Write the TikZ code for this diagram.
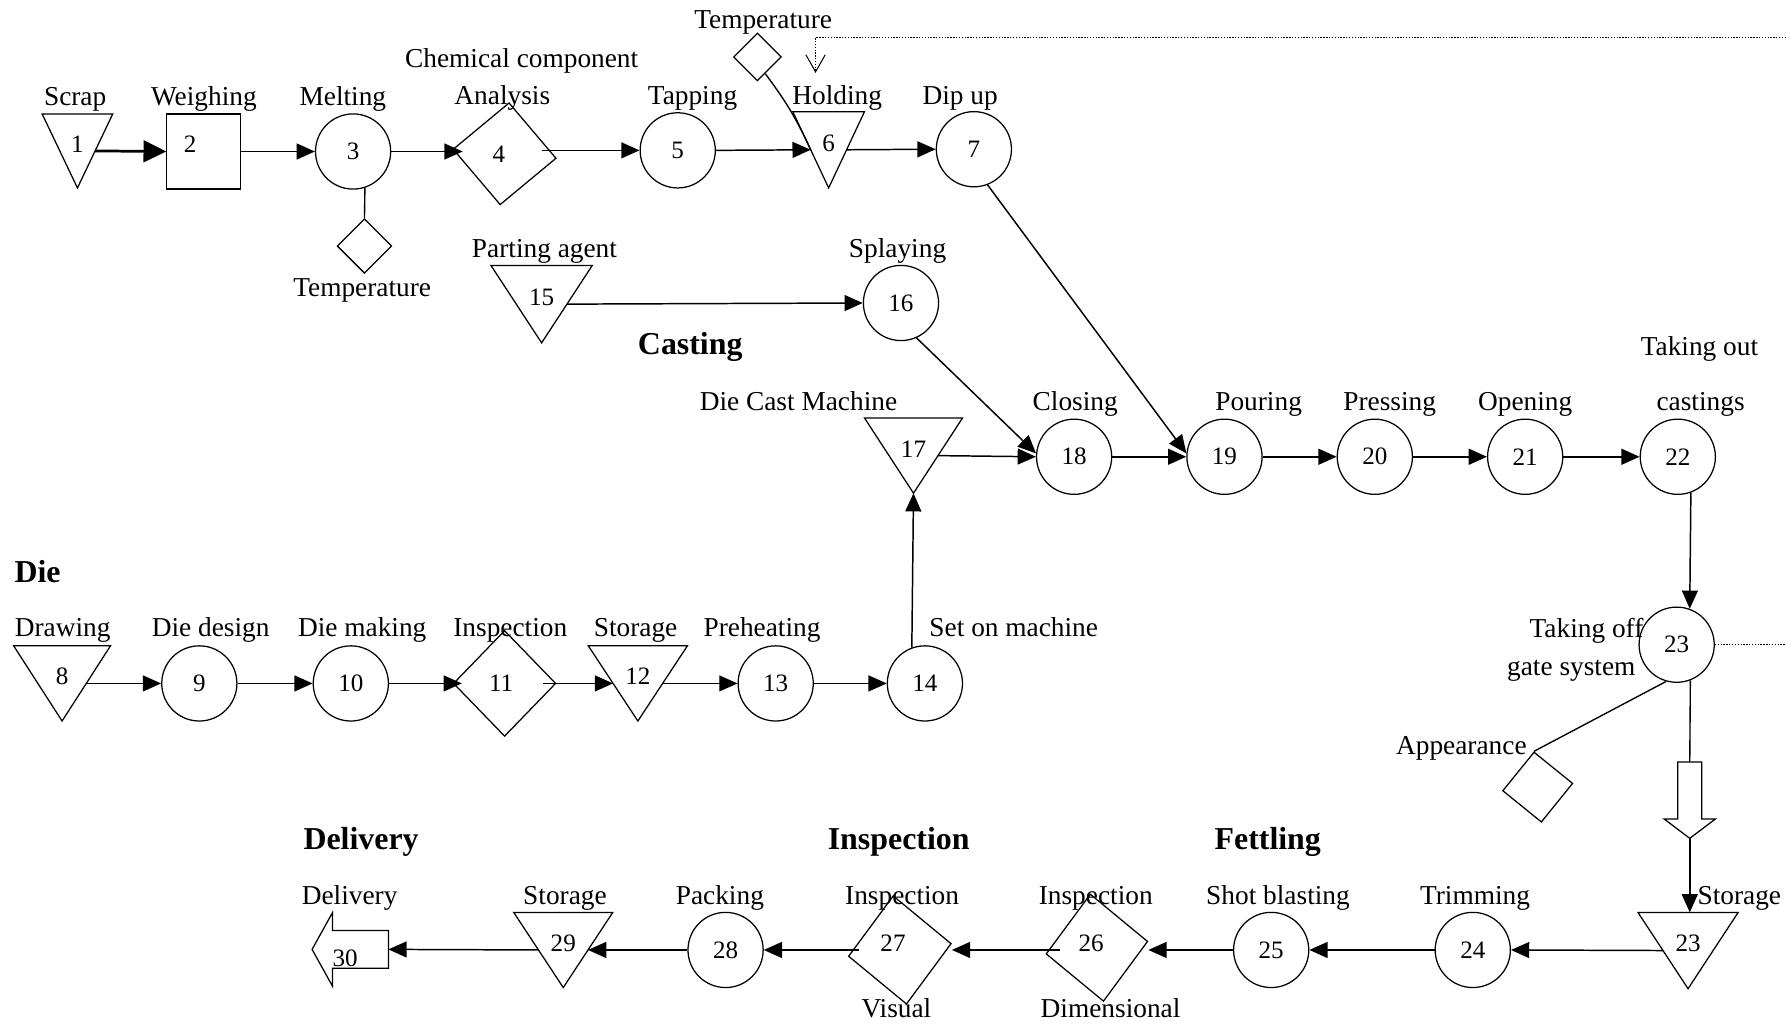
\documentclass[tikz,border=0pt]{standalone}
\usepackage{fontspec}
\setmainfont{Liberation Serif}
\usetikzlibrary{shapes.geometric,arrows.meta,calc}

\newcommand\numfont{\fontsize{22}{24}\selectfont}
\newcommand\lblfont{\fontsize{24}{28}\selectfont}
\newcommand\headfont{\bfseries\fontsize{28}{32}\selectfont}

\tikzset{
  outline/.style={draw, line width=1.1pt, line join=miter},
  opc/.style={circle, outline, minimum size=66pt, inner sep=0pt, font=\numfont},
  chk/.style={diamond, outline, inner sep=0pt},
  hull/.style={rectangle, inner sep=0pt, outer sep=0pt},
  num/.style={font=\numfont, inner sep=0pt},
  lbl/.style={font=\lblfont, inner sep=0pt, anchor=base},
  head/.style={font=\headfont, inner sep=0pt, anchor=base},
  flow/.style={line width=1.3pt, -{Triangle[length=16pt,width=14pt]}},
  heavyflow/.style={line width=2.4pt, -{Triangle[length=20pt,width=19pt]}},
  tie/.style={line width=1.2pt},
  info/.style={line width=1pt, dash pattern=on 1.2pt off 1.3pt},
}

% downward storage triangle: name, centre, width, height, number
\newcommand\storetri[5]{%
  \node[hull, minimum width=#3pt, minimum height=#4pt] (#1) at (#2) {};
  \draw[outline] (#1.north west) -- (#1.north east) -- (#1.south) -- cycle;
  \coordinate (#1-w) at ($(#1.north west)!0.5!(#1.south)$);
  \coordinate (#1-e) at ($(#1.north east)!0.5!(#1.south)$);
  \node[num] (#1-n) at ([yshift=6pt]#1.center) {#5};
}

\begin{document}
\begin{tikzpicture}[x=1pt, y=-1pt]
\useasboundingbox (0,0) rectangle (1568,900);

% ---------- melting line ----------
\storetri{t1}{68,132.5}{62}{65}{1}
\node[hull, outline, minimum width=65pt, minimum height=66pt] (sq2) at (178.5,133) {};
\node[num] (sq2-n) at (167,127) {2};
\node[opc] (c3) at (310,133) {3};
\node[chk, minimum width=91pt, minimum height=90pt, rotate=-5] (d4) at (443,135) {};
\node[num] (d4-n) at (438,135) {4};
\node[opc] (c5) at (595,132) {5};
\storetri{t6}{727.5,131.5}{63}{67}{6}
\node[opc] (c7) at (855,131) {7};
\node[chk, minimum size=48pt] (tempA) at (320,216) {};
\node[chk, minimum size=42pt] (tempB) at (665,50) {};

% ---------- casting line ----------
\storetri{t15}{475.5,267}{89}{68}{15}
\node[opc] (c16) at (791,266) {16};
\storetri{t17}{802,400}{86}{66}{17}
\node[opc] (c18) at (943,401) {18};
\node[opc] (c19) at (1075,401) {19};
\node[opc] (c20) at (1207,401) {20};
\node[opc] (c21) at (1339,401) {21};
\node[opc] (c22) at (1473,401) {22};
\node[opc] (c23) at (1472,566) {23};
\node[chk, minimum size=62pt, rotate=6] (app) at (1350,691) {};

% ---------- die line ----------
\storetri{t8}{54.5,600}{85}{66}{8}
\node[opc] (c9) at (175,600) {9};
\node[opc] (c10) at (308,600) {10};
\node[chk, minimum width=90pt, minimum height=93pt] (d11) at (443,600) {};
\node[num] (d11-n) at (440,600) {11};
\storetri{t12}{560,600}{87}{66}{12}
\node[opc] (c13) at (681,600) {13};
\node[opc] (c14) at (812,600) {14};

% ---------- fettling, inspection, delivery ----------
\storetri{t23}{1482,834.5}{88}{67}{23}
\node[opc] (c24) at (1293,834) {24};
\node[opc] (c25) at (1116,834) {25};
\node[chk, minimum width=90pt, minimum height=95pt, rotate=7] (d26) at (963,832) {};
\node[num] (d26-n) at (958,828) {26};
\node[chk, minimum width=91pt, minimum height=96pt, rotate=7] (d27) at (790,834) {};
\node[num] (d27-n) at (784,828) {27};
\node[opc] (c28) at (637,834) {28};
\storetri{t29}{494.5,834}{87}{66}{29}

% block arrow below operation 23
\coordinate (ba-top) at (1483.5,669);
\coordinate (ba-tip) at (1483.5,736);
\draw[outline] ($(ba-top)+(-10.5,0)$) -- ($(ba-top)+(10.5,0)$) -- ($(ba-top)+(10.5,50)$)
  -- ($(ba-top)+(22.5,50)$) -- (ba-tip) -- ($(ba-top)+(-22.5,50)$) -- ($(ba-top)+(-10.5,50)$) -- cycle;

% delivery block arrow
\coordinate (d30-e) at (341,833.5);
\coordinate (d30-tip) at (274,833.5);
\draw[outline] ($(d30-e)+(0,-16.5)$) -- ($(d30-tip)+(18,-16.5)$) -- ($(d30-tip)+(18,-32.5)$)
  -- (d30-tip) -- ($(d30-tip)+(18,32.5)$) -- ($(d30-tip)+(18,16.5)$) -- ($(d30-e)+(0,16.5)$) -- cycle;
\node[num] (n30) at (303,841) {30};

% ---------- connectors ----------
\draw[heavyflow] (t1-e) -- (sq2.west);
\draw[flow] (sq2.east) -- (c3.west);
\draw[flow] (c3.east) -- ([xshift=9pt]c3.east -| d4.west);
\draw[flow] ([xshift=-13pt]c5.west -| d4.east) -- (c5.west);
\draw[flow] (c5.east) -- (t6-w);
\draw[flow] (t6-e) -- (c7.west);
\draw[tie] (c3.-72) -- (tempA.north);
\draw[tie] (tempB.-65) to[bend left=6] (t6-w);
\coordinate (edgeA) at (1568,33);
\coordinate (holdmark) at (716,64);
\draw[info, -{Straight Barb[length=15pt,width=17pt,line width=0.9pt]}] (edgeA) -- (holdmark |- edgeA) -- (holdmark);

\draw[flow] (t15-e) -- (c16.west);
\draw[flow] (c16.-66) -- (c18.175);
\draw[flow] (c7.-69) -- (c19.175);
\draw[flow] (t17-e) -- (c18.west);
\draw[flow] (c18.east) -- (c19.west);
\draw[flow] (c19.east) -- (c20.west);
\draw[flow] (c20.east) -- (c21.west);
\draw[flow] (c21.east) -- (c22.west);
\draw[flow] (c22.-70) -- (c23.70);
\draw[tie] (c23.-106) -- (app.north);
\draw[tie] (c23.-69) -- (ba-top);
\draw[flow] (ba-tip) -- (t23.north -| ba-tip);
\coordinate (edgeB) at (1568,566);
\draw[info] (c23.east) -- (edgeB);

\draw[flow] (t8-e) -- (c9.west);
\draw[flow] (c9.east) -- (c10.west);
\draw[flow] (c10.east) -- ([xshift=8pt]d11.west);
\draw[flow] ([xshift=-12pt]d11.east) -- (t12-w);
\draw[flow] (t12-e) -- (c13.west);
\draw[flow] (c13.east) -- (c14.west);
\draw[flow] (c14.110) -- (t17.south);

\draw[flow] (t23-w) -- (c24.east);
\draw[flow] (c24.west) -- (c25.east);
\draw[flow] (c25.west) -- (c25.west -| d26.east);
\draw[flow] ([xshift=13pt]c25.west -| d26.west) -- (c25.west -| d27.east);
\draw[flow] ([xshift=10pt]c28.east -| d27.west) -- (c28.east);
\draw[flow] (c28.west) -- (t29-e);
\draw[flow] (t29-w) -- (d30-e);

% ---------- labels ----------
\node[lbl] (l1) at (66,93) {Scrap};
\node[lbl] (l2) at (179,93) {Weighing};
\node[lbl] (l3) at (301,93) {Melting};
\node[lbl] (l4a) at (458,59) {Chemical component};
\node[lbl] (l4b) at (441,92) {Analysis};
\node[lbl] (l5) at (608,92) {Tapping};
\node[lbl] (l6t) at (670,25) {Temperature};
\node[lbl] (l6) at (735,92) {Holding};
\node[lbl] (l7) at (843,92) {Dip up};
\node[lbl] (l3t) at (318,260) {Temperature};
\node[lbl] (l15) at (478,226) {Parting agent};
\node[lbl] (l16) at (788,226) {Splaying};
\node[lbl] (l17) at (701,360) {Die Cast Machine};
\node[lbl] (l18) at (944,360) {Closing};
\node[lbl] (l19) at (1105,360) {Pouring};
\node[lbl] (l20) at (1220,360) {Pressing};
\node[lbl] (l21) at (1339,360) {Opening};
\node[lbl] (l22a) at (1492,312) {Taking out};
\node[lbl] (l22b) at (1493,360) {castings};
\node[lbl, anchor=base east] (l23a) at (1443,560) {Taking off};
\node[lbl, anchor=base east] (l23b) at (1436,593) {gate system};
\node[lbl] (lapp) at (1283,662) {Appearance};
\node[lbl] (l8) at (55,559) {Drawing};
\node[lbl] (l9) at (185,559) {Die design};
\node[lbl] (l10) at (318,559) {Die making};
\node[lbl] (l11) at (448,559) {Inspection};
\node[lbl] (l12) at (558,559) {Storage};
\node[lbl] (l13) at (669,559) {Preheating};
\node[lbl] (l14) at (890,559) {Set on machine};
\node[lbl] (l23s) at (1527,794) {Storage};
\node[lbl] (l24) at (1295,794) {Trimming};
\node[lbl] (l25) at (1122,794) {Shot blasting};
\node[lbl] (l26a) at (962,794) {Inspection};
\node[lbl] (l26b) at (975,893) {Dimensional};
\node[lbl] (l27a) at (792,794) {Inspection};
\node[lbl] (l27b) at (787,893) {Visual};
\node[lbl] (l28) at (632,794) {Packing};
\node[lbl] (l29) at (496,794) {Storage};
\node[lbl] (l30) at (307,794) {Delivery};

% ---------- section headings ----------
\node[head] (h1) at (33,511) {Die};
\node[head] (h2) at (606,311) {Casting};
\node[head] (h3) at (317,746) {Delivery};
\node[head] (h4) at (789,746) {Inspection};
\node[head] (h5) at (1113,746) {Fettling};
\end{tikzpicture}
\end{document}
